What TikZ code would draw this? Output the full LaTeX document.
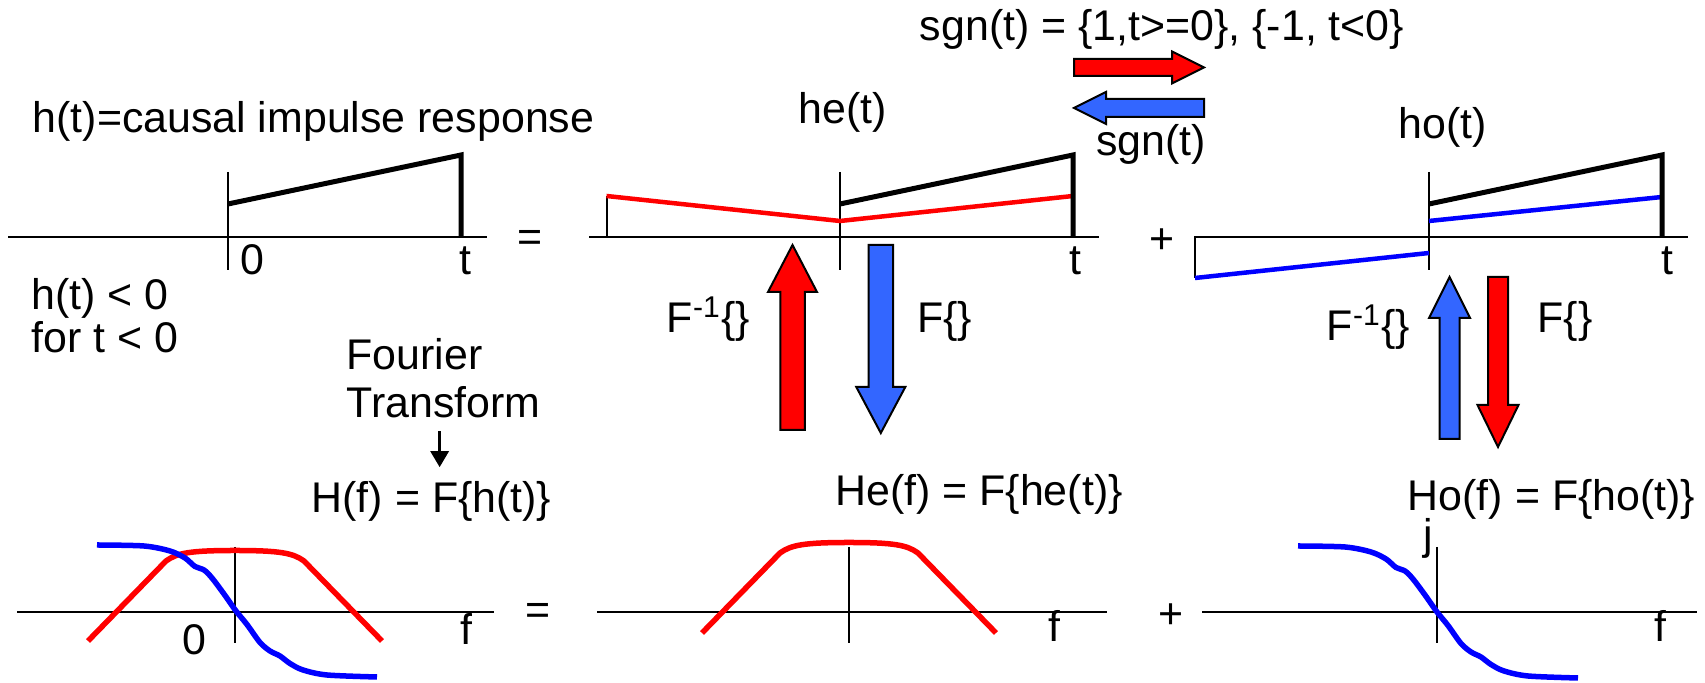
\documentclass[tikz,border=0pt]{standalone}
\usepackage{fontspec}
\setmainfont{Liberation Sans}
\usetikzlibrary{arrows.meta}
\definecolor{arrblue}{RGB}{51,102,255}
\definecolor{sigblue}{RGB}{0,0,255}
\definecolor{sigred}{RGB}{255,0,0}

\begin{document}
\begin{tikzpicture}[x=0.01cm,y=-0.01cm,
  every node/.style={font=\fontsize{12.2}{14}\selectfont,inner sep=0pt},
  lbl/.style={anchor=base},
  axis/.style={line width=0.02cm},
  sig/.style={line width=0.05cm},
  half/.style={line width=0.045cm},
  spec/.style={line width=0.055cm,line join=round},
  blockarr/.style={draw=black,line width=0.02cm}]
\useasboundingbox (0,0) rectangle (1705,683);

% time domain: axes
\foreach \a/\b/\c in {8/487/228,589/1099/840,1194/1688/1429} {
  \draw[axis] (\a,237) -- (\b,237);
  \draw[axis] (\c,172) -- (\c,270);
}
% even and odd parts
\draw[axis] (606.5,196) -- (606.5,237);
\draw[half,sigred] (606.5,196) -- (840,221) -- (1073,196);
\draw[axis] (1195,237) -- (1195,278);
\draw[half,sigblue] (1195,278) -- (1429,253);
\draw[half,sigblue] (1429,221) -- (1662,197);
% causal h(t)
\foreach \c in {228,840,1429}
  \draw[sig] (\c,204) -- ({\c+233},155) -- ({\c+233},237);

% frequency domain: axes
\foreach \a/\b/\c in {17/494/235,597/1107/849,1202/1697/1437} {
  \draw[axis] (\a,612) -- (\b,612);
  \draw[axis] (\c,547) -- (\c,643);
}
\foreach \c/\d in {235/8,849/0}
  \draw[spec,sigred,shift={(\c,{612+\d})}] (-147,21) -- (-69,-59)
    .. controls (-58,-67) and (-45,-69.5) .. (0,-69.5)
    .. controls (45,-69.5) and (58,-67) .. (69,-59) -- (147,21);
\foreach \c/\d in {236/611,1437/612}
  \draw[spec,sigblue,shift={(\c,\d)}] plot[smooth,tension=0.5] coordinates
    {(-139,-66) (-92,-65) (-66,-60) (-51,-53) (-41,-44.5) (-32,-41) (-24,-33)
     (-12,-17) (0,0) (11,13.5) (24,31.5) (34,40) (44,45) (54,52.5) (67,59)
     (91,64) (141,66)};

% block arrows
\foreach \cx/\tl/\bs/\tp/\sw/\hw/\col in {792.5/430/292/245/12.25/24.5/sigred,
    880.8/245/387/433/12.25/24.5/arrblue,1449.6/439/318/277/10/20.5/arrblue,
    1498/277/405/447/10/20.5/sigred}
  \filldraw[blockarr,fill=\col] ({\cx-\sw},\tl) -- ({\cx-\sw},\bs) -- ({\cx-\hw},\bs)
    -- (\cx,\tp) -- ({\cx+\hw},\bs) -- ({\cx+\sw},\bs) -- ({\cx+\sw},\tl) -- cycle;
\foreach \cy/\tl/\bs/\tp/\sw/\hw/\col in {67.5/1074/1172/1204/8.5/16/sigred,
    108/1204/1106/1074/9/16/arrblue}
  \filldraw[blockarr,fill=\col] (\tl,{\cy-\sw}) -- (\bs,{\cy-\sw}) -- (\bs,{\cy-\hw})
    -- (\tp,\cy) -- (\bs,{\cy+\hw}) -- (\bs,{\cy+\sw}) -- (\tl,{\cy+\sw}) -- cycle;

% labels
\node[lbl] (sgnfwd) at (1162,41) {sgn(t) = \{1,t>=0\}, \{-1, t<0\}};
\node[lbl] (sgnback) at (1151,156) {sgn(t)};
\node[lbl] (htitle) at (313.5,133) {h(t)=causal impulse response};
\node[lbl] (het) at (843,124) {he(t)};
\node[lbl] (hot) at (1442.5,139) {ho(t)};
\node[lbl] (zeroa) at (252,275) {0};
\foreach \x/\n in {465/ta,1075/tb,1667/tc}
  \node[lbl] (\n) at (\x,275) {t};
\node[lbl] (eqtop) at (530,252) {=};
\node[lbl] (plustop) at (1162,254) {+};
\node[anchor=base west] (conda) at (31,310) {h(t) < 0};
\node[anchor=base west] (condb) at (31,353) {for t < 0};
\node[lbl] (finva) at (708.5,333) {F\textsuperscript{-1}\{\}};
\node[lbl] (fa) at (944.5,333) {F\{\}};
\node[lbl] (finvb) at (1368.5,341) {F\textsuperscript{-1}\{\}};
\node[lbl] (fb) at (1565,333) {F\{\}};
\node[anchor=base west] (four) at (346,370) {Fourier};
\node[anchor=base west] (trans) at (346,418) {Transform};
\node[lbl] (hf) at (431.5,513) {H(f) = F\{h(t)\}};
\node[lbl] (hef) at (979,506) {He(f) = F\{he(t)\}};
\node[lbl] (hof) at (1551.5,511) {Ho(f) = F\{ho(t)\}};
\node[lbl] (zerob) at (194,655) {0};
\foreach \x/\y/\n in {466/645/fla,1054/642/flb,1660/642/flc}
  \node[lbl] (\n) at (\x,\y) {f};
\node[lbl] (jlab) at (1428,550) {j};
\node[lbl] (eqbot) at (538,625) {=};
\node[lbl] (plusbot) at (1171,629) {+};

\draw[line width=0.03cm,-{Triangle[length=0.16cm,width=0.18cm]},
  shorten <=0.12cm,shorten >=0.14cm]
  ([xshift=-0.04cm]trans.south) -- ([xshift=-0.04cm]trans.south |- hf.north);
\end{tikzpicture}
\end{document}
